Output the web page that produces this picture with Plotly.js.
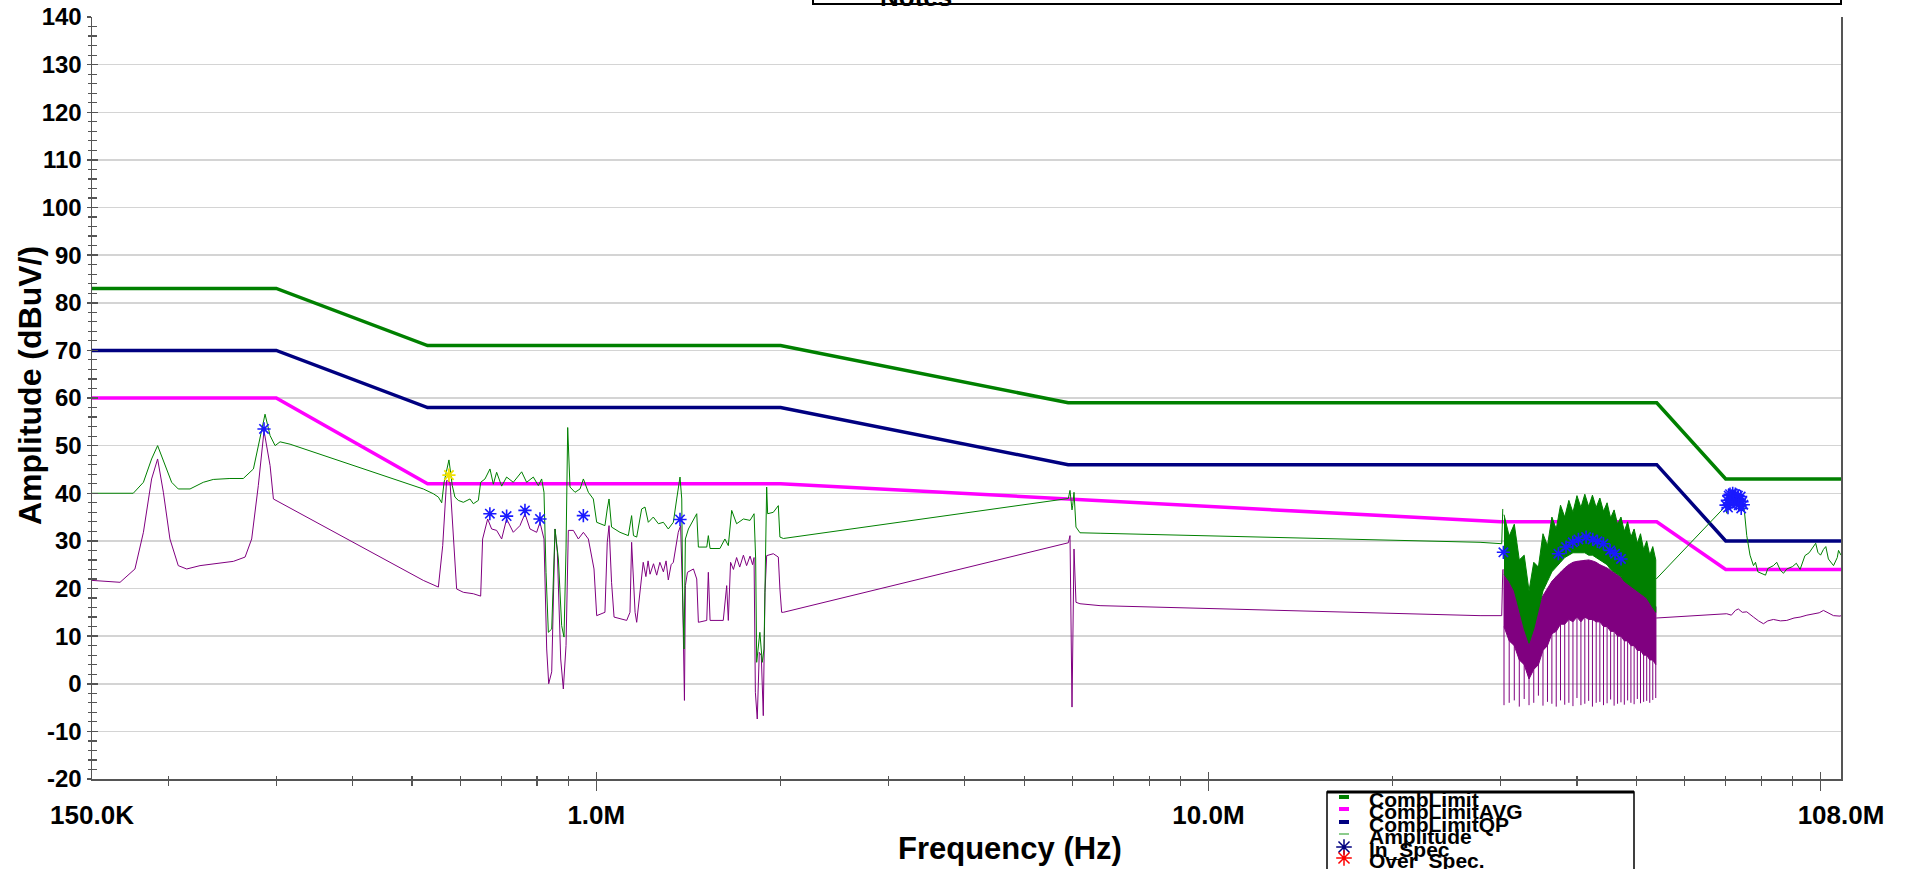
<!DOCTYPE html>
<html><head><meta charset="utf-8">
<script src="https://cdn.plot.ly/plotly-3.0.1.min.js"></script>
<style>html,body{margin:0;padding:0;background:#fff;overflow:hidden}#chart{width:1908px;height:869px}</style>
</head><body><div id="chart"></div>
<script>
// ---------- DATA (frequency in MHz, amplitude in dBuV) ----------
const limitFreq    = [0.15, 0.3, 0.53, 2.0, 5.9, 54, 70, 108];
const combLimit    = [83, 83, 71, 71, 59, 59, 43, 43];
const combLimitQP  = [70, 70, 58, 58, 46, 46, 30, 30];
const avgFreq      = [0.15, 0.3, 0.53, 2.0, 30, 54, 70, 108];
const combLimitAVG = [60, 60, 42, 42, 34, 34, 24, 24];

const peakFreq = [0.15,0.1752,0.182,0.1877,0.192,0.1974,0.2024,0.2075,0.2169,0.228,0.2367,0.252,0.265,0.2753,0.2822,0.2876,0.2931,0.2987,0.3043,0.316,
 0.5216,0.5416,0.552,0.559,0.564,0.5744,0.5817,0.5875,0.595,0.6064,0.6217,0.6296,0.6416,0.6472,0.6578,0.6703,0.6788,0.6873,0.7004,0.7136,0.7317,0.7551,0.7694,0.789,0.804,0.8141,0.8213,
 0.8276,0.8349,0.8455,0.8561,0.867,0.8778,0.8855,0.8923,0.8979,0.9057,0.923,0.9406,0.9524,0.9705,0.9888,1.0014,1.033,1.042,1.049,1.059,1.093,1.128,1.142,1.150,1.164,1.186,1.201,1.216,
 1.239,1.263,1.287,1.311,1.336,1.353,1.370,1.379,1.384,1.391,1.398,1.414,1.441,1.459,1.468,1.515,1.524,1.534,1.592,1.622,1.643,1.664,1.695,1.739,1.783,1.810,1.821,1.828,1.850,1.867,
 1.879,1.891,1.898,1.905,1.946,1.983,1.995,2.021,5.904,5.941,5.986,6.001,6.031,6.076,6.168,6.652,27.78,30.14,30.26,null,
 53.9,70.08,70.3,70.5,70.8,71.1,71.5,71.9,72.2,72.6,72.9,73.3,73.7,74.0,74.4,74.8,75.76,76.7,77.7,78.3,79.0,80.67,81.3,82.0,83.75,84.8,86.0,87.0,88.07,90.0,91.3,92.6,94.3,95.8,97.35,98.2,99.0,100.0,101.1,102.0,103.0,104.0,105.0,106.5,107.0,108.0];
const peakAmp = [40.0,40.0,42.3,47.2,50.0,45.8,42.3,40.9,40.9,42.3,42.9,43.1,43.1,45.1,51.4,56.6,52.1,50.0,50.8,50.3,
 40.9,39.9,39.2,38.0,42.3,47.0,41.6,39.2,38.5,38.1,38.8,37.8,38.5,42.3,43.0,45.1,41.9,44.4,41.5,43.4,42.3,44.5,42.3,43.4,41.6,43.0,40.2,
 23.4,10.8,11.5,32.5,26.2,12.2,9.8,28.3,53.8,41.3,40.2,40.9,43.0,40.2,38.8,33.9,33.2,36.7,38.8,32.9,31.8,31.1,35.3,31.1,30.8,36.7,37.1,33.9,
 35.0,33.6,33.9,32.5,33.9,38.8,43.4,38.8,17.8,7.3,30.4,32.5,34.6,35.7,28.7,28.7,31.1,28.4,28.4,30.4,29.0,36.4,33.6,34.6,34.3,35.7,26.2,4.5,10.8,4.5,
 7.3,29.7,41.3,35.7,36.0,37.4,30.8,30.5,38.9,40.6,36.5,37.4,40.2,32.9,31.7,31.6,29.7,29.4,36.7,null,
 22.0,37.4,35.8,39.0,37.0,40.0,38.4,40.2,38.0,39.8,38.2,39.5,38.0,39.0,37.5,38.5,31.1,27.0,24.8,25.5,23.5,23.1,22.8,24.2,24.8,25.5,23.8,23.2,24.1,24.6,25.3,24.0,26.9,27.5,28.7,29.5,27.6,27.0,28.2,28.8,26.2,25.5,24.8,26.5,28.0,27.0];

const avgTraceFreq = [0.15,0.1667,0.1763,0.182,0.1877,0.192,0.1962,0.2011,0.2075,0.2142,0.2252,0.2398,0.2553,0.2668,0.2735,0.2804,0.2865,0.2931,0.2968,
 0.5216,0.552,0.5611,0.5694,0.5768,0.584,0.5913,0.6064,0.6296,0.6472,0.652,0.6645,0.6745,0.6873,0.7004,0.7136,0.7317,0.7503,0.7646,0.7792,0.799,0.809,0.8213,
 0.8297,0.836,0.8455,0.8561,0.8636,0.8746,0.8833,0.8923,0.9001,0.9173,0.9346,0.9524,0.9705,0.9913,1.0014,1.033,1.042,1.049,1.059,1.069,1.121,1.135,1.142,1.157,1.164,1.179,1.193,
 1.205,1.215,1.224,1.240,1.255,1.270,1.287,1.300,1.311,1.325,1.336,1.361,1.373,1.384,1.393,1.398,1.409,1.441,1.459,1.468,1.515,1.524,1.534,1.612,1.633,1.643,1.657,
 1.675,1.695,1.715,1.739,1.760,1.783,1.800,1.810,1.819,1.832,1.846,1.860,1.874,1.886,1.898,1.946,1.983,1.995,2.008,2.021,5.904,5.941,5.986,6.031,6.076,6.168,6.652,27.78,30.14,30.26,null,
 53.9,70.26,71.5,72.6,73.4,74.5,75.76,76.8,77.7,79.2,80.67,82.0,83.75,86.0,88.07,90.5,92.6,95.0,97.35,99.5,101.1,103.0,105.0,107.6,108.0];
const avgTraceAmp = [21.7,21.3,24.1,31.8,43.0,47.2,40.2,30.4,24.8,24.1,24.8,25.3,25.7,26.6,30.4,41.6,53.1,45.8,38.8,
 21.7,20.3,29.0,42.7,42.3,29.7,19.9,19.2,18.9,18.4,30.4,34.6,32.5,32.2,30.4,34.6,31.8,33.2,35.7,32.5,31.8,33.9,30.4,
 7.3,0.0,2.5,32.5,27.6,5.2,-1.1,8.0,32.2,32.2,30.4,31.8,30.4,24.1,14.3,15.0,29.7,33.2,21.3,14.0,13.3,15.0,29.7,15.0,12.9,19.2,25.5,
 22.5,25.8,23.0,25.2,22.8,25.5,23.5,25.8,21.8,25.0,25.5,31.8,33.2,17.8,-3.5,20.6,23.4,24.1,22.0,12.9,13.3,23.4,13.3,13.3,20.6,13.3,25.5,
 24.0,26.5,24.5,27.0,24.8,26.8,25.0,26.5,-1.8,-7.4,6.6,5.9,-6.7,19.2,26.9,27.3,26.6,19.9,15.0,15.0,29.6,31.1,-4.9,28.3,17.1,16.8,16.4,14.3,14.3,24.0,null,
 13.8,14.7,14.4,15.4,15.7,15.0,15.1,14.6,14.0,13.2,12.6,13.2,13.5,13.2,13.3,13.8,14.0,14.4,14.7,14.9,15.4,14.8,14.3,14.2,14.3];

// dense harmonic band 30 - 54 MHz
const bandFreq    = [30.4,31.0,31.6,32.2,32.8,33.4,34.0,34.6,35.2,35.8,36.4,37.0,37.6,38.2,38.8,39.4,40.0,40.6,41.2,41.8,42.4,43.0,43.6,44.2,44.8,45.4,46.0,46.6,47.2,47.8,48.4,49.0,49.6,50.2,50.8,51.4,52.0,52.6,53.2,53.8];
const bandPeakHi  = [35.5,31.0,33.5,26.0,27.0,19.5,25.5,24.5,31.5,29.0,35.0,32.5,37.5,35.0,38.5,36.0,39.5,37.0,39.8,37.2,39.6,37.0,39.0,36.2,38.0,34.8,36.5,33.5,35.0,32.0,34.0,30.8,32.5,29.5,31.5,28.2,30.0,27.0,28.8,26.0];
const bandPeakLo  = [23.0,21.5,19.5,15.5,11.5,8.5,11.5,15.5,19.5,21.5,23.5,24.5,25.5,26.5,27.0,27.5,27.5,27.5,27.5,27.0,27.0,26.5,26.0,25.5,25.0,24.0,23.5,23.0,22.5,21.5,21.0,20.5,20.0,19.5,19.0,18.5,18.0,17.0,16.0,15.0];
const bandAvgHi   = [24.0,21.5,20.5,17.5,15.5,12.5,14.0,16.5,18.5,20.0,21.5,22.5,23.5,24.3,25.0,25.5,25.7,25.8,26.0,26.0,25.8,25.5,25.0,24.7,24.3,23.8,23.4,22.9,22.4,21.9,21.4,20.9,20.5,19.8,19.3,18.8,18.3,17.8,16.8,16.2];
const bandAvgMid  = [12,9,8,5,4,1,3,4,7,8,10.5,11,12.5,12.5,13.5,13,14,13,14,13.5,13.5,13,13,12,12,11,11,10,10,9,9,8,8,7,7,6,6,5,5,4];
const bandAvgMin  = [-4.5,-4.0,-3.5,-4.8,-3.2,-4.5,-4.0,-2.5,-4.6,-3.8,-4.2,-4.8,-3.5,-4.4,-4.0,-4.7,-3.0,-4.5,-4.2,-3.6,-4.8,-4.0,-3.8,-4.5,-4.1,-3.3,-4.6,-4.2,-3.9,-4.4,-3.5,-4.0,-4.3,-3.2,-4.1,-3.8,-3.6,-4.0,-3.4,-3.0];

// QP result markers
const inSpecFreq = [0.2865,0.670,0.7136,0.7646,0.809,0.9524,1.370,30.33,37.30,38.39,39.37,40.22,41.40,42.45,43.20,44.19,45.31,46.16,47.21,
 70.08,70.43,70.79,71.14,71.50,71.86,72.22,72.58,72.95,73.31,73.68,74.05,74.42,74.79,70.6,71.3,72.0,72.8,73.5,74.2];
const inSpecAmp  = [53.5,35.7,35.2,36.4,34.6,35.3,34.5,27.6,27.3,28.7,29.7,30.3,30.8,30.3,29.9,29.4,28.0,27.3,26.2,
 37.5,38.5,39.5,39.8,38.6,40.0,39.2,39.8,38.9,39.5,38.6,39.3,38.2,37.6,37.0,38.0,38.3,37.8,37.5,36.8];
const marginalFreq = [0.5744];
const marginalAmp  = [43.8];

const xTickVals  = [0.15, 1, 10, 108];
const xTickText  = ['150.0K', '1.0M', '10.0M', '108.0M'];
const yTickVals  = [-20, -10, 0, 10, 20, 30, 40, 50, 60, 70, 80, 90, 100, 110, 120, 130, 140];
const yTickText  = ['-20', '-10', '0', '10', '20', '30', '40', '50', '60', '70', '80', '90', '100', '110', '120', '130', '140'];
const majorTicks = [1, 10, 100];
const minorTicks = [0.2,0.3,0.4,0.5,0.6,0.7,0.8,0.9,2,3,4,5,6,7,8,9,20,30,40,50,60,70,80,90];
const legendNames = ['CombLimit','CombLimitAVG','CombLimitQP','Amplitude','In_Spec','Over_Spec.'];

// ---------- BUILD ----------
const W = 1908, H = 869;
const FONT = 'Liberation Sans, Arial, sans-serif';
const GREEN = '#008000', PURPLE = '#800080', NAVY = '#000080', MAGENTA = '#ff00ff';
const AX = '#555555';

const bandPolyX = bandFreq.concat(bandFreq.slice().reverse());
const peakPolyY = bandPeakHi.concat(bandPeakLo.slice().reverse());
const avgPolyY  = bandAvgHi.concat(bandAvgMid.slice().reverse());
const spikeX = [], spikeY = [];
bandFreq.forEach((f, i) => { spikeX.push(f, f, null); spikeY.push(bandAvgHi[i], bandAvgMin[i], null); });

const traces = [
  {x: limitFreq, y: combLimit, mode: 'lines', line: {color: GREEN, width: 3.5}, name: 'CombLimit'},
  {x: avgFreq, y: combLimitAVG, mode: 'lines', line: {color: MAGENTA, width: 3.5}, name: 'CombLimitAVG'},
  {x: limitFreq, y: combLimitQP, mode: 'lines', line: {color: NAVY, width: 3.5}, name: 'CombLimitQP'},
  {x: avgTraceFreq, y: avgTraceAmp, mode: 'lines', line: {color: PURPLE, width: 1}, connectgaps: false, name: 'Average'},
  {x: bandPolyX, y: avgPolyY, mode: 'lines', fill: 'toself', fillcolor: PURPLE, line: {color: PURPLE, width: 1}, name: 'Average band'},
  {x: spikeX, y: spikeY, mode: 'lines', line: {color: PURPLE, width: 1}, connectgaps: false, name: 'Average spikes'},
  {x: peakFreq, y: peakAmp, mode: 'lines', line: {color: GREEN, width: 1}, connectgaps: false, name: 'Amplitude'},
  {x: bandPolyX, y: peakPolyY, mode: 'lines', fill: 'toself', fillcolor: GREEN, line: {color: GREEN, width: 1}, name: 'Amplitude band'},
  {x: inSpecFreq, y: inSpecAmp, mode: 'markers', marker: {symbol: 'asterisk-open', size: 11, color: '#1a1aff', line: {color: '#1a1aff', width: 1.6}}, name: 'In_Spec'},
  {x: marginalFreq, y: marginalAmp, mode: 'markers', marker: {symbol: 'asterisk-open', size: 11, color: '#f0e000', line: {color: '#f0e000', width: 1.8}}, name: 'Marginal'},
  // empty traces so the tick-only overlay axes get drawn
  {x: [], y: [], xaxis: 'x2', yaxis: 'y', mode: 'lines', hoverinfo: 'skip'},
  {x: [], y: [], xaxis: 'x3', yaxis: 'y', mode: 'lines', hoverinfo: 'skip'},
  {x: [], y: [], xaxis: 'x', yaxis: 'y2', mode: 'lines', hoverinfo: 'skip'},
];
// legend asterisks
const legRowY = [5, 17, 30, 42, 55, 66];
traces.push({x: [17], y: [legRowY[4]], xaxis: 'x4', yaxis: 'y3', mode: 'markers', hoverinfo: 'skip',
  marker: {symbol: 'asterisk-open', size: 13, color: '#000080', line: {color: '#000080', width: 1.5}}});
traces.push({x: [17], y: [legRowY[5]], xaxis: 'x4', yaxis: 'y3', mode: 'markers', hoverinfo: 'skip',
  marker: {symbol: 'asterisk-open', size: 13, color: '#ff0000', line: {color: '#ff0000', width: 1.5}}});

const xr = [Math.log10(0.15), Math.log10(108)];
const xDom = [92 / W, 1841 / W];
const yDom = [(H - 779) / H, (H - 17) / H];

const shapes = [
  // legend box
  {type: 'rect', xref: 'paper', yref: 'paper', x0: 1327 / W, x1: 1634 / W, y0: -0.1, y1: (H - 792) / H, line: {color: '#000', width: 1.5}},
  {type: 'line', xref: 'paper', yref: 'paper', x0: 1327 / W, x1: 1634 / W, y0: (H - 792) / H, y1: (H - 792) / H, line: {color: '#000', width: 3}},
  // notes box
  {type: 'rect', xref: 'paper', yref: 'paper', x0: 813 / W, x1: 1841 / W, y0: (H - 4) / H, y1: 1.2, line: {color: '#000', width: 2}},
];
const legColors = [GREEN, MAGENTA, NAVY, '#66bb66'];
const legWidths = [4, 4, 4, 1.5];
for (let i = 0; i < 4; i++) {
  shapes.push({type: 'line', xref: 'x4', yref: 'y3', x0: 12, x1: 22, y0: legRowY[i], y1: legRowY[i], line: {color: legColors[i], width: legWidths[i]}});
}

const annotations = [
  {text: 'Amplitude (dBuV/)', xref: 'paper', yref: 'paper', x: 30 / W, y: 1 - 386 / H, textangle: -90, showarrow: false,
   xanchor: 'center', yanchor: 'middle', font: {family: FONT, size: 32, weight: 'bold', color: '#000'}},
  {text: 'Frequency (Hz)', xref: 'paper', yref: 'paper', x: 1010 / W, y: 1 - 848 / H, showarrow: false,
   xanchor: 'center', yanchor: 'middle', font: {family: FONT, size: 31, weight: 'bold', color: '#000'}},
  {text: 'Notes', xref: 'paper', yref: 'paper', x: 916 / W, y: 1 - 14 / H, showarrow: false,
   xanchor: 'center', yanchor: 'bottom', font: {family: FONT, size: 26, weight: 'bold', color: '#000'}},
];
legendNames.forEach((n, i) => {
  annotations.push({text: n, xref: 'x4', yref: 'y3', x: 40, y: legRowY[i] + 2, showarrow: false,
    xanchor: 'left', yanchor: 'middle', font: {family: FONT, size: 21, weight: 'bold', color: '#000'}});
});

const tickOverlay = (side) => ({
  type: 'log', overlaying: 'x', anchor: 'y', range: xr, fixedrange: true,
  tickmode: 'array', tickvals: majorTicks, ticks: side, ticklen: side === 'outside' ? 11 : 7, tickwidth: 1.5, tickcolor: AX,
  minor: {tickmode: 'array', tickvals: minorTicks, ticks: side, ticklen: side === 'outside' ? 6 : 3, tickwidth: 1.2, tickcolor: AX, showgrid: false},
  showticklabels: false, showgrid: false, showline: false, zeroline: false
});

const layout = {
  width: W, height: H,
  margin: {l: 0, r: 0, t: 0, b: 0},
  paper_bgcolor: '#fff', plot_bgcolor: '#fff',
  showlegend: false,
  xaxis: {
    type: 'log', domain: xDom, range: xr, anchor: 'y', fixedrange: true,
    tickmode: 'array', tickvals: xTickVals, ticktext: xTickText, ticks: '',
    tickfont: {family: FONT, size: 26, weight: 'bold', color: '#000'}, ticklabelstandoff: 12,
    showgrid: false, showline: true, linecolor: AX, linewidth: 1.5, zeroline: false
  },
  xaxis2: tickOverlay('outside'),
  xaxis3: tickOverlay('inside'),
  yaxis: {
    domain: yDom, range: [-20, 140], anchor: 'x', fixedrange: true,
    tickmode: 'array', tickvals: yTickVals, ticktext: yTickText, ticks: 'outside', ticklen: 4, tickwidth: 1.5, tickcolor: AX,
    minor: {dtick: 2, tick0: 0, ticks: 'outside', ticklen: 3, tickwidth: 1.2, tickcolor: AX, showgrid: false},
    tickfont: {family: FONT, size: 24, weight: 'bold', color: '#000'},
    showgrid: true, gridcolor: '#d4d4d4', gridwidth: 1.5,
    showline: true, mirror: true, linecolor: AX, linewidth: 1.5, zeroline: false
  },
  yaxis2: {
    overlaying: 'y', anchor: 'x', side: 'left', range: [-20, 140], fixedrange: true,
    tickmode: 'linear', tick0: 0, dtick: 10, ticks: 'inside', ticklen: 6, tickwidth: 1.5, tickcolor: AX,
    minor: {dtick: 2, ticks: 'inside', ticklen: 5, tickwidth: 1.2, tickcolor: AX, showgrid: false},
    showticklabels: false, showgrid: false, showline: false, zeroline: false
  },
  xaxis4: {domain: [1327 / W, 1634 / W], range: [0, 307], anchor: 'y3', visible: false, fixedrange: true},
  yaxis3: {domain: [0, 77 / H], range: [77, 0], anchor: 'x4', visible: false, fixedrange: true},
  shapes: shapes,
  annotations: annotations
};

Plotly.newPlot('chart', traces, layout, {staticPlot: true, displayModeBar: false});
</script></body></html>
